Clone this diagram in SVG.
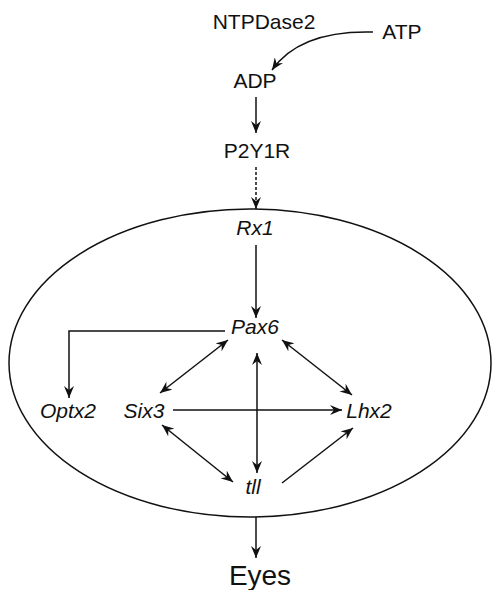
<svg xmlns="http://www.w3.org/2000/svg" width="496" height="590" viewBox="0 0 496 590">
  <style>
    .lbl { font-family: "Liberation Sans", Arial, sans-serif; font-size: 21px; fill: #111; text-anchor: middle; }
    .gene { font-style: italic; }
    .edge { fill: none; stroke: #111; stroke-width: 1.5; }
    .dash { stroke-dasharray: 3 2; }
  </style>
  <defs>
    <marker id="ah" viewBox="0 0 12 10" refX="12" refY="5" markerWidth="12" markerHeight="10" markerUnits="userSpaceOnUse" orient="auto-start-reverse">
      <path d="M0,0 L12,5 L0,10 L4,5 z" fill="#111"/>
    </marker>
  </defs>

  <rect width="496" height="590" fill="#fff"/>

  <!-- cell boundary -->
  <ellipse id="cell" cx="250" cy="363" rx="241" ry="154" fill="none" stroke="#111" stroke-width="1.5"/>

  <g id="connectors">
    <path class="edge" d="M373,32 Q300,30 272,70" marker-end="url(#ah)"/>
    <line class="edge" x1="256" y1="97" x2="256" y2="133" marker-end="url(#ah)"/>
    <line class="edge dash" x1="256" y1="167" x2="256" y2="209" marker-end="url(#ah)"/>
    <line class="edge" x1="256" y1="245" x2="256" y2="318" marker-end="url(#ah)"/>
    <polyline class="edge" points="225,331 69,331 69,398" marker-end="url(#ah)"/>
    <line class="edge" x1="228" y1="340" x2="160" y2="393" marker-start="url(#ah)" marker-end="url(#ah)"/>
    <line class="edge" x1="282" y1="340" x2="352" y2="395" marker-start="url(#ah)" marker-end="url(#ah)"/>
    <line class="edge" x1="257" y1="353" x2="257" y2="473" marker-start="url(#ah)" marker-end="url(#ah)"/>
    <line class="edge" x1="173" y1="410" x2="342" y2="410" marker-end="url(#ah)"/>
    <line class="edge" x1="162" y1="425" x2="233" y2="482" marker-start="url(#ah)" marker-end="url(#ah)"/>
    <line class="edge" x1="282" y1="483" x2="353" y2="428" marker-end="url(#ah)"/>
    <line class="edge" x1="256" y1="517" x2="256" y2="558" marker-end="url(#ah)"/>
  </g>

  <g id="ntpdase2"><text class="lbl" x="264" y="29">NTPDase2</text></g>
  <g id="atp"><text class="lbl" x="402" y="39">ATP</text></g>
  <g id="adp"><text class="lbl" x="255" y="88">ADP</text></g>
  <g id="p2y1r"><text class="lbl" x="257" y="158">P2Y1R</text></g>
  <g id="rx1"><text class="lbl gene" x="255" y="235">Rx1</text></g>
  <g id="pax6"><text class="lbl gene" x="255" y="334">Pax6</text></g>
  <g id="optx2"><text class="lbl gene" x="68" y="418">Optx2</text></g>
  <g id="six3"><text class="lbl gene" x="144" y="418">Six3</text></g>
  <g id="lhx2"><text class="lbl gene" x="369" y="418">Lhx2</text></g>
  <g id="tll"><text class="lbl gene" x="253" y="494">tll</text></g>
  <g id="eyes"><text class="lbl" x="260" y="585" style="font-size:28px">Eyes</text></g>
</svg>
